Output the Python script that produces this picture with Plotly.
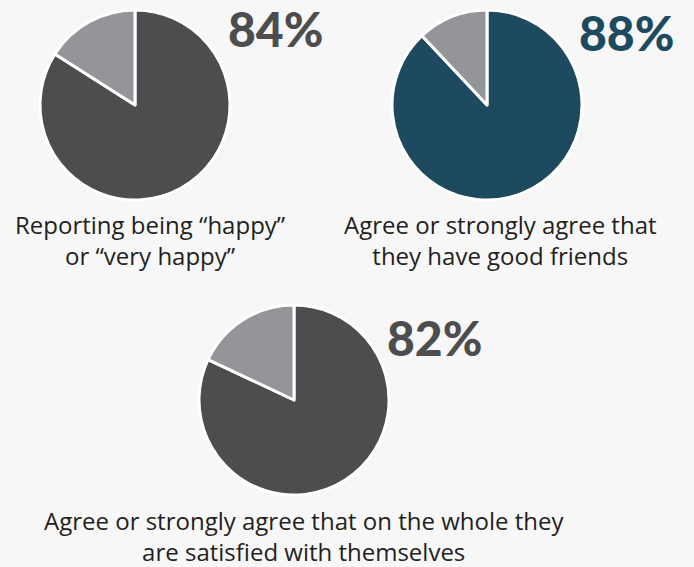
import plotly.graph_objects as go

labels = ["Yes", "No"]
happy = [84, 16]
friends = [88, 12]
satisfied = [82, 18]
captions = [
    "Reporting being “happy”<br>or “very happy”",
    "Agree or strongly agree that<br>they have good friends",
    "Agree or strongly agree that on the whole they<br>are satisfied with themselves",
]

W, H = 694, 567
DARK = "#4d4d4f"
GRAY = "#939598"
TEAL = "#1d4a5e"
BG = "#f7f7f7"

def px(x0, x1):
    return [x0 / W, x1 / W]

def py(y0, y1):
    return [1 - y1 / H, 1 - y0 / H]

fig = go.Figure()
specs = [
    (happy, DARK, px(40, 230), py(10, 200)),
    (friends, TEAL, px(392, 582), py(10, 200)),
    (satisfied, DARK, px(199, 389), py(305, 495)),
]
for vals, col, dx, dy in specs:
    fig.add_trace(go.Pie(
        labels=labels, values=vals, sort=False, direction="clockwise", rotation=0,
        marker=dict(colors=[col, GRAY], line=dict(color="white", width=3)),
        textinfo="none", hoverinfo="skip", showlegend=False,
        domain=dict(x=dx, y=dy),
    ))

pct_font = dict(family="Lato", size=48, color=DARK, weight=900)
pct_pos = [(275, 28, happy, DARK), (626, 32, friends, TEAL), (434, 337, satisfied, DARK)]
for cx, cy, vals, col in pct_pos:
    fig.add_annotation(x=cx / W, y=1 - cy / H, xref="paper", yref="paper",
                       xanchor="center", yanchor="middle",
                       text=f"{vals[0]}%", showarrow=False,
                       font=dict(pct_font, color=col))

cap_font = dict(family="Open Sans", size=24, color="#231f20")
for (cx, cy), t in zip([(150, 240), (500, 240), (304, 536)], captions):
    fig.add_annotation(x=cx / W, y=1 - cy / H, xref="paper", yref="paper",
                       xanchor="center", yanchor="middle",
                       text=t, showarrow=False, font=cap_font, align="center")

fig.update_layout(
    width=W, height=H, margin=dict(l=0, r=0, t=0, b=0),
    paper_bgcolor=BG, plot_bgcolor=BG,
)
fig.write_html("out.html")
